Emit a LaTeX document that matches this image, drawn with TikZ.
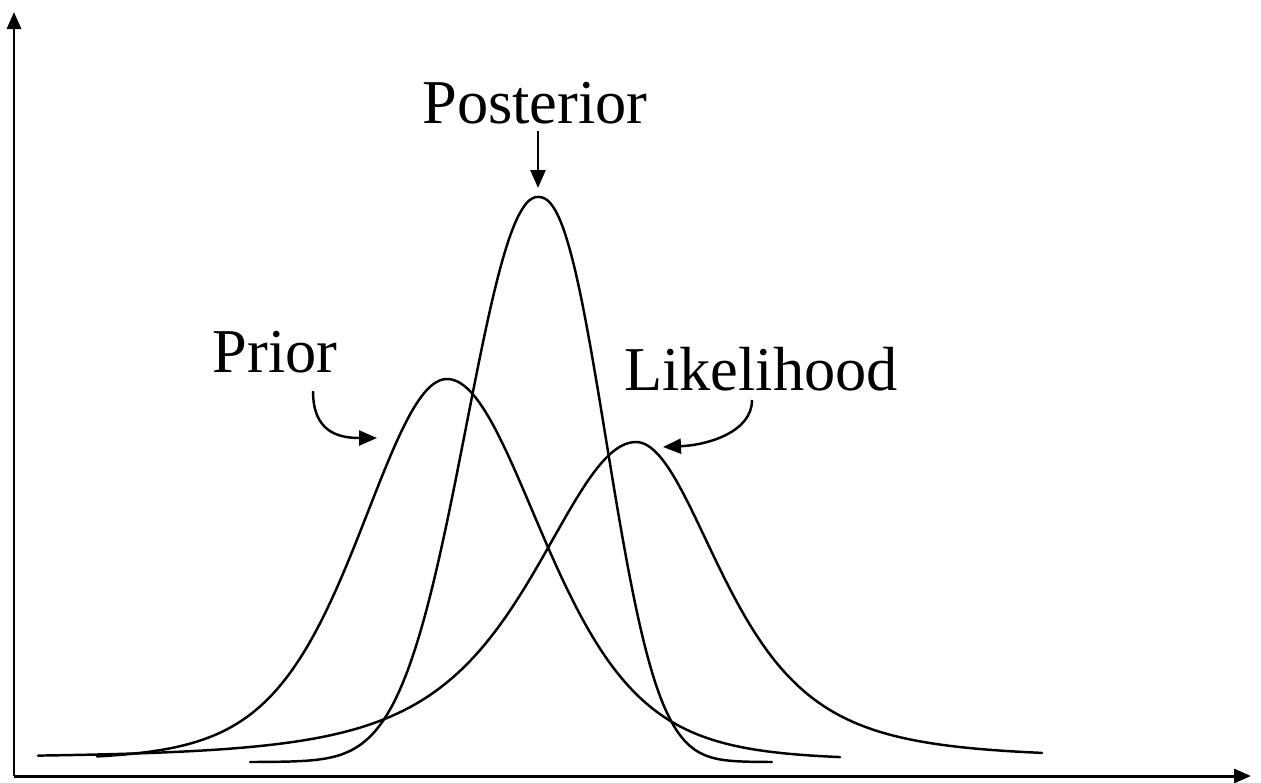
\documentclass[tikz,border=0pt]{standalone}
\usepackage{fontspec}
\setmainfont{Liberation Serif}
\usetikzlibrary{arrows.meta, calc}

\begin{document}
\begin{tikzpicture}[
    x=0.02cm, y=-0.02cm,
    curve/.style={line width=1.4pt, line join=round, line cap=round, samples=160, smooth},
    axis/.style={line width=1.7pt, -{Triangle[length=0.34cm, width=0.28cm]}},
    pointer/.style={line width=1.4pt, -{Triangle[length=0.36cm, width=0.3cm]}},
    lab/.style={inner sep=0pt, anchor=base, font=\fontsize{35.5}{40}\selectfont}
]
\useasboundingbox (0,0) rectangle (1261,782);

% axes
\coordinate (origin) at (14,776);
\coordinate (ytip) at (14,12);
\coordinate (xtip) at (1251,776);
\draw[axis] (origin) -- (ytip);
\draw[axis] (origin) -- (xtip);

% densities
\draw[curve] plot[domain=97:840] (\x, {760-381/(1+((\x-447)/(\x<447 ? 235 : 255))^2)^4});
\draw[curve] plot[domain=250:772] (\x, {762-565*exp(-((abs(\x-538)+0.01)/(\x<538 ? 98 : 87.5))^(\x<538 ? 2.1 : 2.3))});
\draw[curve] plot[domain=38:1042] (\x, {758-316/(1+((\x-636)/(\x<636 ? 185 : 155))^2)^2});

% labels
\node[lab] (post) at (535,123) {Posterior};
\node[lab] (prior) at (275,372) {Prior};
\node[lab] (like) at (761,390) {Likelihood};

\coordinate (posttip) at (538,188);
\coordinate (priortip) at (377,438);
\coordinate (liketip) at (663,447);
\draw[pointer] ($(post.base)+(3,8)$) -- (posttip);
\draw[pointer] ($(prior.base)+(38,19)$) .. controls +(0,40) and +(-40,0) .. (priortip);
\draw[pointer] ($(like.base)+(-9,10)$) .. controls +(0,32) and +(45,-2) .. (liketip);
\end{tikzpicture}
\end{document}
